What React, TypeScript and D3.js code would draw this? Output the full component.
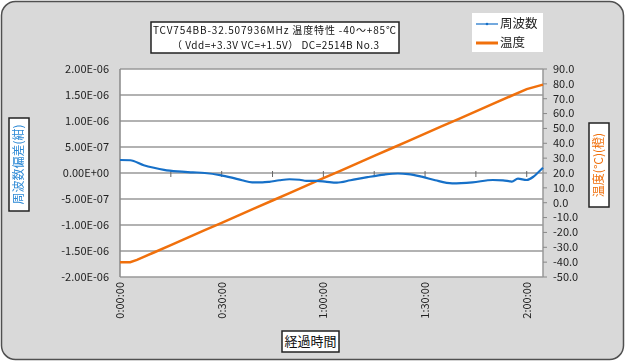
import React from "react";
import * as d3 from "d3";

// ---- data (minutes elapsed) ----
const freqTimes = [0, 3, 7, 10, 13, 17, 21.5, 25, 29.5, 33, 36, 39, 42, 44, 47, 50, 53, 55, 58, 61, 64, 68, 73, 78, 82, 85, 89, 93, 98, 104, 110, 113, 115.6, 117.4, 120, 122, 123.5, 124.8];
const freqValues = [2.5e-7, 2.45e-7, 1.5e-7, 1.0e-7, 0.6e-7, 0.3e-7, 0.13e-7, 0.0, -0.4e-7, -0.9e-7, -1.4e-7, -1.8e-7, -1.8e-7, -1.7e-7, -1.4e-7, -1.2e-7, -1.3e-7, -1.5e-7, -1.5e-7, -1.7e-7, -1.85e-7, -1.4e-7, -0.8e-7, -0.3e-7, -0.1e-7, -0.2e-7, -0.7e-7, -1.4e-7, -2.0e-7, -1.8e-7, -1.35e-7, -1.4e-7, -1.65e-7, -1.1e-7, -1.35e-7, -0.7e-7, 0.2e-7, 1.0e-7];

const tempTimes = [0, 3, 5, 10, 15, 20, 25, 30, 35, 40, 45, 50, 55, 60, 65, 70, 75, 80, 85, 90, 95, 100, 105, 110, 115, 120, 124.8];
const tempValues = [-40, -40, -38.5, -33.5, -28.5, -23.5, -18.5, -13.5, -8.5, -3.5, 1.5, 6.5, 11.5, 16.5, 21.5, 26.5, 31.5, 36.5, 41.5, 46.5, 51.5, 56.5, 61.5, 66.5, 71.5, 76.5, 79.5];

const leftTicks = [2e-6, 1.5e-6, 1e-6, 5e-7, 0, -5e-7, -1e-6, -1.5e-6, -2e-6];
const leftTickLabels = ["2.00E-06", "1.50E-06", "1.00E-06", "5.00E-07", "0.00E+00", "-5.00E-07", "-1.00E-06", "-1.50E-06", "-2.00E-06"];
const rightTicks = [90, 80, 70, 60, 50, 40, 30, 20, 10, 0, -10, -20, -30, -40, -50];
const xLabelTimes = [0, 30, 60, 90, 120];
const xLabels = ["0:00:00", "0:30:00", "1:00:00", "1:30:00", "2:00:00"];
const xMinorTicks = [15, 30, 45, 60, 75, 90, 105, 120];

const titleLine1 = "TCV754BB-32.507936MHz 温度特性 -40～+85℃";
const titleLine2 = "（ Vdd=+3.3V VC=+1.5V） DC=2514B  No.3";
const legendNames = ["周波数", "温度"];
const leftTitle = "周波数偏差(紺)";
const rightTitle = "温度(°C)(橙)";
const xTitle = "経過時間";

const W = 625, H = 361;
const L = 120, R = 543, T = 69, B = 277;
const BLUE = "#1670c8";
const ORANGE = "#f0700c";
const FONT = "'Noto Sans CJK JP', 'DejaVu Sans', sans-serif";

export default function App() {
  const x = d3.scaleLinear().domain([0, 124.8]).range([L, R]);
  const yL = d3.scaleLinear().domain([-2e-6, 2e-6]).range([B, T]);
  const yR = d3.scaleLinear().domain([-50, 90]).range([B, T]);

  const freqLine = d3.line<number>()
    .x((_, i) => x(freqTimes[i]))
    .y((d) => yL(d))
    .curve(d3.curveMonotoneX)(freqValues) as string;
  const tempLine = d3.line<number>()
    .x((_, i) => x(tempTimes[i]))
    .y((d) => yR(d))
    .curve(d3.curveLinear)(tempValues) as string;

  return (
    <svg width={W} height={H} style={{ position: "fixed", left: 0, top: 0 }} fontFamily={FONT}>
      <rect x={1.5} y={1.5} width={W - 3} height={H - 3} rx={14} fill="#d9d9d9" stroke="#505050" strokeWidth={1.5} />
      {/* plot area */}
      <rect x={L} y={T} width={R - L} height={B - T} fill="#ffffff" />
      {leftTicks.map((t) => (
        <line key={"g" + t} x1={L} x2={R} y1={yL(t)} y2={yL(t)} stroke="#999999" strokeWidth={1.5} />
      ))}
      <line x1={L} x2={L} y1={T} y2={B} stroke="#888888" strokeWidth={1.5} />
      <line x1={R} x2={R} y1={T} y2={B} stroke="#999999" strokeWidth={1.5} />
      {xMinorTicks.map((t) => (
        <line key={"xt" + t} x1={x(t)} x2={x(t)} y1={yL(0) - 2} y2={yL(0) + 4} stroke="#666666" strokeWidth={1} />
      ))}
      {rightTicks.map((t) => (
        <line key={"rt" + t} x1={R} x2={R + 4} y1={yR(t)} y2={yR(t)} stroke="#888888" strokeWidth={1} />
      ))}
      {/* left labels */}
      {leftTicks.map((t, i) => (
        <text key={"ll" + t} x={109} y={yL(t)} dy="0.35em" textAnchor="end" fontSize={11} fill="#222">
          {leftTickLabels[i]}
        </text>
      ))}
      {rightTicks.map((t) => (
        <text key={"rl" + t} x={553} y={yR(t)} dy="0.35em" textAnchor="start" fontSize={11} fill="#222">
          {t.toFixed(1)}
        </text>
      ))}
      {xLabelTimes.map((t, i) => (
        <text key={"xl" + t} transform={`translate(${x(t)},282) rotate(-90)`} dy="0.35em" textAnchor="end" fontSize={11} fill="#222">
          {xLabels[i]}
        </text>
      ))}
      {/* series */}
      <path d={tempLine} fill="none" stroke={ORANGE} strokeWidth={2.5} />
      <path d={freqLine} fill="none" stroke={BLUE} strokeWidth={2.2} />
      {/* title */}
      <rect x={151} y={22} width={248} height={31} fill="#ffffff" stroke="#222" strokeWidth={1.5} />
      <text x={153} y={34} fontSize={10} fill="#111" textLength={243} lengthAdjust="spacing">{titleLine1}</text>
      <text x={172} y={48.5} fontSize={10} fill="#111" textLength={207} lengthAdjust="spacing">{titleLine2}</text>
      {/* legend */}
      <rect x={472} y={13} width={71} height={39} fill="#ffffff" />
      <line x1={476} x2={498} y1={24} y2={24} stroke={BLUE} strokeWidth={1.2} />
      <circle cx={487} cy={24} r={1.3} fill={BLUE} />
      <text x={500} y={24} dy="0.35em" fontSize={12.5} fill="#222">{legendNames[0]}</text>
      <line x1={476} x2={498} y1={43} y2={43} stroke={ORANGE} strokeWidth={3} />
      <text x={500} y={43} dy="0.35em" fontSize={12.5} fill="#222">{legendNames[1]}</text>
      {/* axis titles */}
      <rect x={9} y={118} width={20} height={93} fill="#ffffff" stroke="#222" strokeWidth={1.5} />
      <text transform="translate(19,164.5) rotate(-90)" dy="0.35em" textAnchor="middle" fontSize={12} fill="#2e8ad6">{leftTitle}</text>
      <rect x={589} y={123} width={20} height={84} fill="#ffffff" stroke="#222" strokeWidth={1.5} />
      <text transform="translate(599,165) rotate(-90)" dy="0.35em" textAnchor="middle" fontSize={12} fill={ORANGE}>{rightTitle}</text>
      <rect x={282} y={331} width={57} height={21} fill="#ffffff" stroke="#222" strokeWidth={1.5} />
      <text x={310.5} y={341.5} dy="0.35em" textAnchor="middle" fontSize={13} fill="#111">{xTitle}</text>
    </svg>
  );
}
